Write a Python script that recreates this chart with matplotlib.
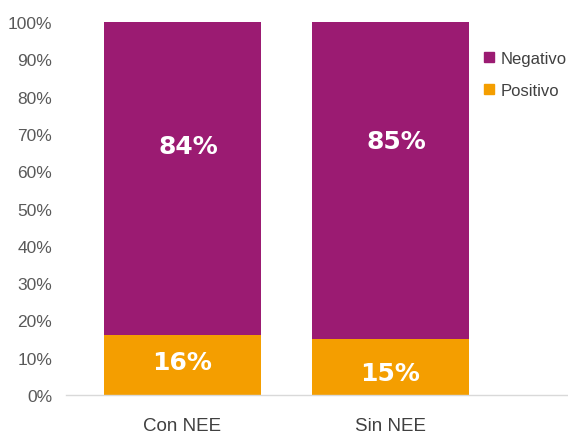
import matplotlib.pyplot as plt
from matplotlib.patches import Patch

grupos = ["Con NEE", "Sin NEE"]
positivo = [16, 15]
negativo = [84, 85]
etiquetas_pos = ["16%", "15%"]
etiquetas_neg = ["84%", "85%"]
yticks = [0, 10, 20, 30, 40, 50, 60, 70, 80, 90, 100]

COR_NEG = "#9B1B72"
COR_POS = "#F49E00"
FONTE = ["Liberation Sans", "DejaVu Sans"]

plt.rcParams["font.family"] = FONTE

fig = plt.figure(figsize=(5.68, 4.35), dpi=100)
ax = fig.add_axes([66 / 568, 1 - 396 / 435, 1 - 66 / 568, 373 / 435])

x = range(len(grupos))
ax.bar(x, positivo, width=0.755, color=COR_POS, zorder=2)
ax.bar(x, negativo, width=0.755, bottom=positivo, color=COR_NEG, zorder=2)

# posição das etiquetas (fração do segmento), como no original
pos_neg = [0.605, 0.625]
pos_pos = [0.55, 0.40]
for i in x:
    ax.text(i + 0.03, positivo[i] + negativo[i] * pos_neg[i], etiquetas_neg[i],
            ha="center", va="center", color="white", fontsize=18,
            fontweight="bold", family="DejaVu Sans")
    ax.text(i, positivo[i] * pos_pos[i], etiquetas_pos[i],
            ha="center", va="center", color="white", fontsize=18,
            fontweight="bold", family="DejaVu Sans")

ax.set_xlim(-0.56, 1.853)
ax.set_ylim(0, 100)
ax.set_yticks(yticks)
ax.set_yticklabels([f"{v}%" for v in yticks])
ax.set_xticks(list(x))
ax.set_xticklabels(grupos)
ax.tick_params(axis="y", length=0, pad=10, labelsize=12.5, labelcolor="#595959")
ax.tick_params(axis="x", length=0, pad=16, labelsize=13.5, labelcolor="#404040")

for s in ["top", "right", "left"]:
    ax.spines[s].set_visible(False)
ax.spines["bottom"].set_color("#D9D9D9")
ax.spines["bottom"].set_linewidth(1.0)

handles = [Patch(color=COR_NEG, label="Negativo"), Patch(color=COR_POS, label="Positivo")]
leg = ax.legend(handles=handles, loc="upper left", bbox_to_anchor=(0.82, 0.94),
                frameon=False, fontsize=12, handlelength=0.6, handleheight=0.6,
                handletextpad=0.4, labelspacing=1.0, borderaxespad=0)
for t in leg.get_texts():
    t.set_color("#404040")

fig.savefig("out.png", dpi=100)
